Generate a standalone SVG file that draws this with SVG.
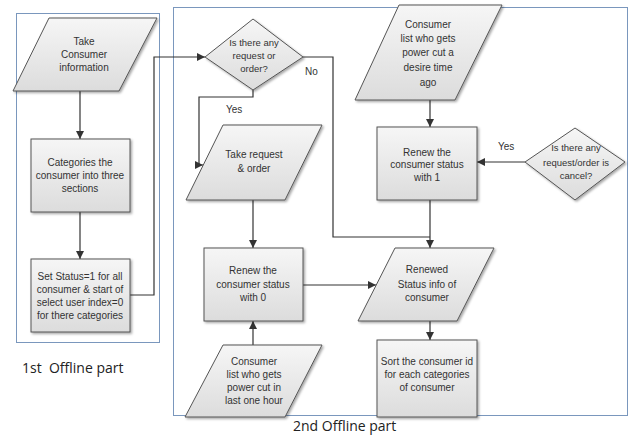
<svg xmlns="http://www.w3.org/2000/svg" width="636" height="436" viewBox="0 0 636 436">
<defs>
<linearGradient id="g" x1="0" y1="0" x2="0" y2="1">
<stop offset="0" stop-color="#f6f6f6"/>
<stop offset="1" stop-color="#dcdcdc"/>
</linearGradient>
<filter id="sh" x="-10%" y="-10%" width="130%" height="130%">
<feDropShadow dx="1.5" dy="1.5" stdDeviation="1.2" flood-color="#000" flood-opacity="0.35"/>
</filter>
<marker id="ah" viewBox="0 0 10 10" refX="10" refY="5" markerWidth="8" markerHeight="8" markerUnits="userSpaceOnUse" orient="auto">
<path d="M0,0 L10,5 L0,10 z" fill="#333"/>
</marker>
</defs>
<style>
.shape{fill:url(#g);stroke:#555;stroke-width:1;filter:url(#sh)}
.cont{fill:none;stroke:#7a97bd;stroke-width:1}
.t{font-family:"Liberation Sans",Arial,sans-serif;font-size:10px;fill:#333;text-anchor:middle}
.d{font-size:9.5px}
.lbl{font-family:"Liberation Sans",Arial,sans-serif;font-size:10px;fill:#333}
.cap{font-family:"Open Sans","Liberation Sans",sans-serif;font-size:14px;fill:#222}
.c{fill:none;stroke:#333;stroke-width:1.2}
</style>
<rect width="636" height="436" fill="#fff"/>
<g id="containers">
<rect class="cont" x="16.5" y="13.5" width="143" height="329"/>
<rect class="cont" x="173.5" y="7.5" width="454" height="408"/>
</g>
<g id="connectors">
<path class="c" d="M80,91 V139" marker-end="url(#ah)"/>
<path class="c" d="M80,212 V259" marker-end="url(#ah)"/>
<path class="c" d="M130,295 H154 V57 H205" marker-end="url(#ah)"/>
<path class="c" d="M253,90 V97 H199 V165 H203" marker-end="url(#ah)"/>
<path class="c" d="M253,200 V248" marker-end="url(#ah)"/>
<path class="c" d="M253,345 V321" marker-end="url(#ah)"/>
<path class="c" d="M303,285 H376" marker-end="url(#ah)"/>
<path class="c" d="M303,57 H333 V237 H430"/>
<path class="c" d="M430,100 V127" marker-end="url(#ah)"/>
<path class="c" d="M525,162 H477" marker-end="url(#ah)"/>
<path class="c" d="M430,200 V248" marker-end="url(#ah)"/>
<path class="c" d="M430,321 V340" marker-end="url(#ah)"/>
<text class="lbl" x="305" y="75">No</text>
<text class="lbl" x="226" y="113">Yes</text>
<text class="lbl" x="498" y="150">Yes</text>
</g>
<g id="take-info">
<polygon class="shape" points="49,18 157,18 119,91 13,91"/>
<text class="t" x="84" y="45">Take</text>
<text class="t" x="84" y="58">Consumer</text>
<text class="t" x="84" y="71">information</text>
</g>
<g id="categories">
<rect class="shape" x="31" y="139" width="99" height="73"/>
<text class="t" x="80" y="166">Categories the</text>
<text class="t" x="80" y="179">consumer into three</text>
<text class="t" x="80" y="192">sections</text>
</g>
<g id="set-status">
<rect class="shape" x="31" y="259" width="99" height="73"/>
<text class="t" x="80" y="280">Set Status=1 for all</text>
<text class="t" x="80" y="293">consumer &amp; start of</text>
<text class="t" x="80" y="306">select user index=0</text>
<text class="t" x="80" y="319">for there categories</text>
</g>
<g id="decision-request">
<polygon class="shape" points="205,57 253,19 303,57 253,90"/>
<text class="t d" x="254" y="46">Is there any</text>
<text class="t d" x="254" y="59">request or</text>
<text class="t d" x="254" y="72">order?</text>
</g>
<g id="take-request">
<polygon class="shape" points="223,125 322,125 285,200 186,200"/>
<text class="t" x="254" y="158">Take request</text>
<text class="t" x="254" y="172">&amp; order</text>
</g>
<g id="renew-0">
<rect class="shape" x="204" y="248" width="99" height="73"/>
<text class="t" x="253" y="274">Renew the</text>
<text class="t" x="253" y="288">consumer status</text>
<text class="t" x="253" y="301">with 0</text>
</g>
<g id="list-one-hour">
<polygon class="shape" points="223,345 322,345 285,417 185,417"/>
<text class="t" x="254" y="365">Consumer</text>
<text class="t" x="254" y="378">list who gets</text>
<text class="t" x="254" y="391">power cut in</text>
<text class="t" x="254" y="404">last one hour</text>
</g>
<g id="list-desire">
<polygon class="shape" points="399,5 502,5 455,100 355,100"/>
<text class="t" x="428" y="28">Consumer</text>
<text class="t" x="428" y="42">list who gets</text>
<text class="t" x="428" y="56">power cut a</text>
<text class="t" x="428" y="71">desire time</text>
<text class="t" x="428" y="86">ago</text>
</g>
<g id="renew-1">
<rect class="shape" x="377" y="127" width="100" height="73"/>
<text class="t" x="427" y="156">Renew the</text>
<text class="t" x="427" y="168">consumer status</text>
<text class="t" x="427" y="181">with 1</text>
</g>
<g id="decision-cancel">
<polygon class="shape" points="525,162 575,128 625,162 575,200"/>
<text class="t d" x="576" y="151">Is there any</text>
<text class="t d" x="576" y="166">request/order is</text>
<text class="t d" x="576" y="179">cancel?</text>
</g>
<g id="renewed-info">
<polygon class="shape" points="395,248 494,248 457,321 358,321"/>
<text class="t" x="427" y="273">Renewed</text>
<text class="t" x="427" y="288">Status info of</text>
<text class="t" x="427" y="301">consumer</text>
</g>
<g id="sort">
<rect class="shape" x="377" y="340" width="100" height="77"/>
<text class="t" x="427" y="365">Sort the consumer id</text>
<text class="t" x="427" y="378">for each categories</text>
<text class="t" x="427" y="391">of consumer</text>
</g>
<g id="captions">
<text class="cap" x="22" y="373" xml:space="preserve">1st  Offline part</text>
<text class="cap" x="293" y="431">2nd Offline part</text>
</g>
</svg>
